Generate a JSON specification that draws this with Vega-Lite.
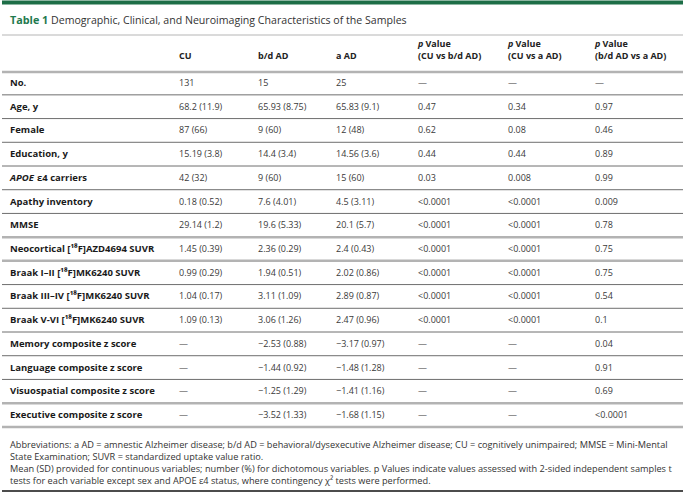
{
  "$schema": "https://vega.github.io/schema/vega-lite/v6.json",
  "width": 685,
  "height": 493,
  "autosize": {"type": "fit", "contains": "padding"},
  "padding": 0,
  "background": "white",
  "config": {"view": {"stroke": null}, "text": {"font": "Open Sans", "baseline": "middle", "align": "left"}},
  "datasets": {
    "cols": [
      {"key": "CU", "c": 1}, {"key": "bdAD", "c": 2}, {"key": "aAD", "c": 3},
      {"key": "p1", "c": 4}, {"key": "p2", "c": 5}, {"key": "p3", "c": 6}
    ],
    "rows": [
      {"r": 2, "label": "No.", "CU": "131", "bdAD": "15", "aAD": "25", "p1": "—", "p2": "—", "p3": "—"},
      {"r": 3, "label": "Age, y", "CU": "68.2 (11.9)", "bdAD": "65.93 (8.75)", "aAD": "65.83 (9.1)", "p1": "0.47", "p2": "0.34", "p3": "0.97"},
      {"r": 4, "label": "Female", "CU": "87 (66)", "bdAD": "9 (60)", "aAD": "12 (48)", "p1": "0.62", "p2": "0.08", "p3": "0.46"},
      {"r": 5, "label": "Education, y", "CU": "15.19 (3.8)", "bdAD": "14.4 (3.4)", "aAD": "14.56 (3.6)", "p1": "0.44", "p2": "0.44", "p3": "0.89"},
      {"r": 6, "label": "", "CU": "42 (32)", "bdAD": "9 (60)", "aAD": "15 (60)", "p1": "0.03", "p2": "0.008", "p3": "0.99"},
      {"r": 7, "label": "Apathy inventory", "CU": "0.18 (0.52)", "bdAD": "7.6 (4.01)", "aAD": "4.5 (3.11)", "p1": "<0.0001", "p2": "<0.0001", "p3": "0.009"},
      {"r": 8, "label": "MMSE", "CU": "29.14 (1.2)", "bdAD": "19.6 (5.33)", "aAD": "20.1 (5.7)", "p1": "<0.0001", "p2": "<0.0001", "p3": "0.78"},
      {"r": 9, "label": "Neocortical [¹⁸F]AZD4694 SUVR", "CU": "1.45 (0.39)", "bdAD": "2.36 (0.29)", "aAD": "2.4 (0.43)", "p1": "<0.0001", "p2": "<0.0001", "p3": "0.75"},
      {"r": 10, "label": "Braak I–II [¹⁸F]MK6240 SUVR", "CU": "0.99 (0.29)", "bdAD": "1.94 (0.51)", "aAD": "2.02 (0.86)", "p1": "<0.0001", "p2": "<0.0001", "p3": "0.75"},
      {"r": 11, "label": "Braak III–IV [¹⁸F]MK6240 SUVR", "CU": "1.04  (0.17)", "bdAD": "3.11  (1.09)", "aAD": "2.89  (0.87)", "p1": "<0.0001", "p2": "<0.0001", "p3": "0.54"},
      {"r": 12, "label": "Braak V-VI [¹⁸F]MK6240 SUVR", "CU": "1.09  (0.13)", "bdAD": "3.06  (1.26)", "aAD": "2.47  (0.96)", "p1": "<0.0001", "p2": "<0.0001", "p3": "0.1"},
      {"r": 13, "label": "Memory composite z score", "CU": " —", "bdAD": "−2.53 (0.88)", "aAD": "−3.17 (0.97)", "p1": "—", "p2": "—", "p3": "0.04"},
      {"r": 14, "label": "Language composite z score", "CU": " —", "bdAD": "−1.44 (0.92)", "aAD": "−1.48 (1.28)", "p1": "—", "p2": "—", "p3": "0.91"},
      {"r": 15, "label": "Visuospatial composite z score", "CU": " —", "bdAD": "−1.25 (1.29)", "aAD": "−1.41 (1.16)", "p1": "—", "p2": "—", "p3": "0.69"},
      {"r": 16, "label": "Executive composite z score", "CU": " —", "bdAD": "−3.52 (1.33)", "aAD": "−1.68 (1.15)", "p1": "—", "p2": "—", "p3": "<0.0001"}
    ],
    "apoe": [{"r": 6, "c": 0, "a": "APOE", "b": "ε4 carriers"}],
    "headers": [
      {"r": 1.5, "c": 1, "t": "CU"},
      {"r": 1.5, "c": 2, "t": "b/d AD"},
      {"r": 1.5, "c": 3, "t": "a AD"},
      {"r": 1.5, "c": 4, "t": "(CU vs b/d AD)"},
      {"r": 1.5, "c": 5, "t": "(CU vs  a AD)"},
      {"r": 1.5, "c": 6, "t": "(b/d AD vs  a AD)"}
    ],
    "pv": [{"r": 1, "c": 4}, {"r": 1, "c": 5}, {"r": 1, "c": 6}],
    "notes": [
      {"r": 17, "c": 0, "t": "Abbreviations: a AD = amnestic Alzheimer disease; b/d AD = behavioral/dysexecutive Alzheimer disease; CU = cognitively  unimpaired; MMSE = Mini-Mental"},
      {"r": 18, "c": 0, "t": "State Examination; SUVR = standardized uptake value ratio."},
      {"r": 19, "c": 0, "t": "Mean (SD) provided for continuous variables; number (%) for dichotomous variables. p Values indicate values assessed with 2-sided independent samples t"},
      {"r": 20, "c": 0, "t": "tests for each variable except sex and APOE ε4 status, where contingency χ² tests were  performed."}
    ],
    "title": [{"r": 0, "c": 0, "a": "Table 1", "b": "Demographic, Clinical, and Neuroimaging Characteristics of the Samples"}],
    "minor": [{"r": 2.5}, {"r": 3.5}, {"r": 4.5}, {"r": 5.5}, {"r": 6.5}, {"r": 7.5}, {"r": 10.5}, {"r": 11.5}, {"r": 12.5}, {"r": 13.5}, {"r": 14.5}],
    "major": [{"r": 1.75}, {"r": 8.5}, {"r": 9.5}, {"r": 15.5}, {"r": 16.5}],
    "titleLine": [{"r": 0.5}],
    "topBar": [{"r": -1}],
    "bottom": [{"r": 20.5}]
  },
  "encoding": {
    "y": {"field": "r", "type": "quantitative", "axis": null,
      "scale": {"domain": [-1, 0, 0.5, 1, 1.5, 1.75, 2, 16, 16.5, 17, 20, 20.5], "range": [1.5, 20, 34, 43, 55, 71, 82, 414, 426, 444, 480, 490], "nice": false, "zero": false}}
  },
  "layer": [
    {"data": {"name": "topBar"}, "mark": {"type": "rule", "color": "#1d6e47", "strokeWidth": 4}, "encoding": {}},
    {"data": {"name": "titleLine"}, "mark": {"type": "rule", "color": "#b5b5b5", "strokeWidth": 1.2}, "encoding": {}},
    {"data": {"name": "minor"}, "mark": {"type": "rule", "color": "#6e6e6e", "strokeWidth": 1}, "encoding": {}},
    {"data": {"name": "major"}, "mark": {"type": "rule", "color": "#b3b3b3", "strokeWidth": 2.5}, "encoding": {}},
    {"data": {"name": "bottom"}, "mark": {"type": "rule", "color": "#111111", "strokeWidth": 1.5}, "encoding": {}},
    {
      "data": {"name": "title"},
      "mark": {"type": "text", "fontSize": 10.8, "fontWeight": "bold", "color": "#1f7a4f"},
      "encoding": {
        "x": {"field": "c", "type": "quantitative", "axis": null,
          "scale": {"domain": [0, 1, 2, 3, 4, 5, 6], "range": [8, 177, 256, 334, 416, 506, 593], "nice": false, "zero": false}},
        "text": {"field": "a"}
      }
    },
    {
      "data": {"name": "title"},
      "mark": {"type": "text", "fontSize": 10.6, "color": "#333333", "dx": 41},
      "encoding": {"x": {"field": "c", "type": "quantitative", "axis": null}, "text": {"field": "b"}}
    },
    {
      "data": {"name": "headers"},
      "mark": {"type": "text", "fontSize": 9, "fontWeight": "bold", "color": "#222222"},
      "encoding": {"x": {"field": "c", "type": "quantitative", "axis": null}, "text": {"field": "t"}}
    },
    {
      "data": {"name": "pv"},
      "mark": {"type": "text", "fontSize": 9, "fontWeight": "bold", "fontStyle": "italic", "color": "#222222", "text": "p"},
      "encoding": {"x": {"field": "c", "type": "quantitative", "axis": null}}
    },
    {
      "data": {"name": "pv"},
      "mark": {"type": "text", "fontSize": 9, "fontWeight": "bold", "color": "#222222", "text": "Value", "dx": 7.5},
      "encoding": {"x": {"field": "c", "type": "quantitative", "axis": null}}
    },
    {
      "data": {"name": "rows"},
      "mark": {"type": "text", "fontSize": 9.5, "fontWeight": "bold", "color": "#1a1a1a"},
      "encoding": {"x": {"datum": 0, "type": "quantitative", "axis": null}, "text": {"field": "label"}}
    },
    {
      "data": {"name": "apoe"},
      "mark": {"type": "text", "fontSize": 9.5, "fontWeight": "bold", "fontStyle": "italic", "color": "#1a1a1a"},
      "encoding": {"x": {"field": "c", "type": "quantitative", "axis": null}, "text": {"field": "a"}}
    },
    {
      "data": {"name": "apoe"},
      "mark": {"type": "text", "fontSize": 9.5, "fontWeight": "bold", "color": "#1a1a1a", "dx": 27},
      "encoding": {"x": {"field": "c", "type": "quantitative", "axis": null}, "text": {"field": "b"}}
    },
    {
      "data": {"name": "rows"},
      "transform": [
        {"fold": ["CU", "bdAD", "aAD", "p1", "p2", "p3"], "as": ["key", "value"]},
        {"lookup": "key", "from": {"data": {"name": "cols"}, "key": "key", "fields": ["c"]}}
      ],
      "mark": {"type": "text", "fontSize": 9, "color": "#3a3a3a"},
      "encoding": {"x": {"field": "c", "type": "quantitative", "axis": null}, "text": {"field": "value"}}
    },
    {
      "data": {"name": "notes"},
      "mark": {"type": "text", "fontSize": 9.2, "color": "#333333"},
      "encoding": {"x": {"field": "c", "type": "quantitative", "axis": null}, "text": {"field": "t"}}
    }
  ]
}
